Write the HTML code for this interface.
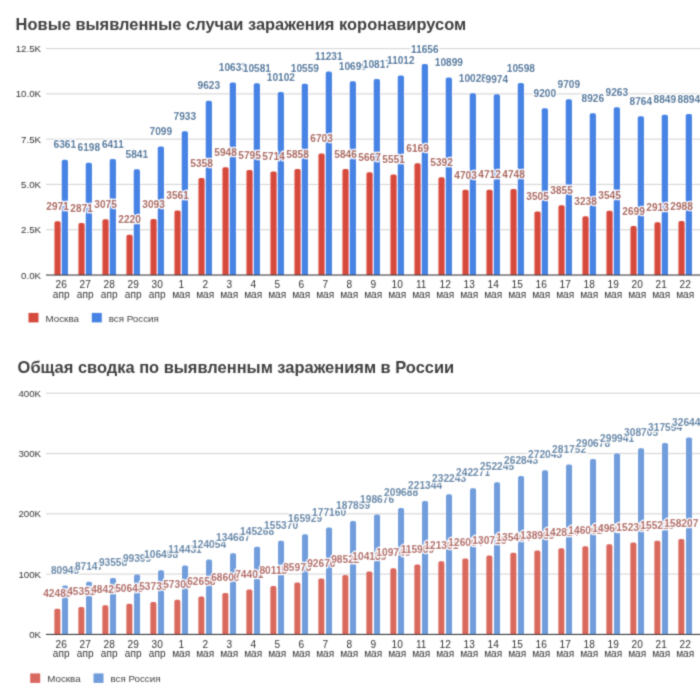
<!DOCTYPE html>
<html><head><meta charset="utf-8"><style>html,body{margin:0;padding:0;background:#fff;width:700px;height:700px;overflow:hidden}svg{display:block}</style></head><body>
<svg width="700" height="700" viewBox="0 0 700 700">
<defs><filter id="bl" x="0" y="0" width="700" height="700" filterUnits="userSpaceOnUse"><feConvolveMatrix order="3" kernelMatrix="0.02768 0.11101 0.02768 0.11101 0.44521 0.11101 0.02768 0.11101 0.02768" divisor="1" preserveAlpha="false"/></filter></defs><rect width="700" height="700" fill="#fff"/><g filter="url(#bl)">
<text x="15.6" y="29.6" font-family='"Liberation Sans", sans-serif' font-weight="bold" font-size="16.9" fill="#404040" textLength="450.6" lengthAdjust="spacingAndGlyphs">Новые выявленные случаи заражения коронавирусом</text>
<rect x="46" y="48.00" width="654" height="1.2" fill="#d9d9d9"/>
<text x="41" y="52.10" text-anchor="end" font-family='"Liberation Sans", sans-serif' font-size="9.7" fill="#333">12.5K</text>
<rect x="46" y="93.28" width="654" height="1.2" fill="#d9d9d9"/>
<text x="41" y="97.38" text-anchor="end" font-family='"Liberation Sans", sans-serif' font-size="9.7" fill="#333">10.0K</text>
<rect x="46" y="138.56" width="654" height="1.2" fill="#d9d9d9"/>
<text x="41" y="142.66" text-anchor="end" font-family='"Liberation Sans", sans-serif' font-size="9.7" fill="#333">7.5K</text>
<rect x="46" y="183.84" width="654" height="1.2" fill="#d9d9d9"/>
<text x="41" y="187.94" text-anchor="end" font-family='"Liberation Sans", sans-serif' font-size="9.7" fill="#333">5.0K</text>
<rect x="46" y="229.12" width="654" height="1.2" fill="#d9d9d9"/>
<text x="41" y="233.22" text-anchor="end" font-family='"Liberation Sans", sans-serif' font-size="9.7" fill="#333">2.5K</text>
<text x="41" y="278.50" text-anchor="end" font-family='"Liberation Sans", sans-serif' font-size="9.7" fill="#333">0.0K</text>
<path d="M54.45,275.00 V222.99 Q54.45,221.19 56.25,221.19 H58.85 Q60.65,221.19 60.65,222.99 V275.00 Z" fill="#d64a3c"/>
<path d="M61.75,275.00 V161.59 Q61.75,159.79 63.55,159.79 H66.15 Q67.95,159.79 67.95,161.59 V275.00 Z" fill="#4683e4"/>
<path d="M78.45,275.00 V224.80 Q78.45,223.00 80.25,223.00 H82.85 Q84.65,223.00 84.65,224.80 V275.00 Z" fill="#d64a3c"/>
<path d="M85.75,275.00 V164.54 Q85.75,162.74 87.55,162.74 H90.15 Q91.95,162.74 91.95,164.54 V275.00 Z" fill="#4683e4"/>
<path d="M102.45,275.00 V221.11 Q102.45,219.31 104.25,219.31 H106.85 Q108.65,219.31 108.65,221.11 V275.00 Z" fill="#d64a3c"/>
<path d="M109.75,275.00 V160.68 Q109.75,158.88 111.55,158.88 H114.15 Q115.95,158.88 115.95,160.68 V275.00 Z" fill="#4683e4"/>
<path d="M126.45,275.00 V236.59 Q126.45,234.79 128.25,234.79 H130.85 Q132.65,234.79 132.65,236.59 V275.00 Z" fill="#d64a3c"/>
<path d="M133.75,275.00 V171.01 Q133.75,169.21 135.55,169.21 H138.15 Q139.95,169.21 139.95,171.01 V275.00 Z" fill="#4683e4"/>
<path d="M150.45,275.00 V220.78 Q150.45,218.98 152.25,218.98 H154.85 Q156.65,218.98 156.65,220.78 V275.00 Z" fill="#d64a3c"/>
<path d="M157.75,275.00 V148.22 Q157.75,146.42 159.55,146.42 H162.15 Q163.95,146.42 163.95,148.22 V275.00 Z" fill="#4683e4"/>
<path d="M174.45,275.00 V212.30 Q174.45,210.50 176.25,210.50 H178.85 Q180.65,210.50 180.65,212.30 V275.00 Z" fill="#d64a3c"/>
<path d="M181.75,275.00 V133.12 Q181.75,131.32 183.55,131.32 H186.15 Q187.95,131.32 187.95,133.12 V275.00 Z" fill="#4683e4"/>
<path d="M198.45,275.00 V179.76 Q198.45,177.96 200.25,177.96 H202.85 Q204.65,177.96 204.65,179.76 V275.00 Z" fill="#d64a3c"/>
<path d="M205.75,275.00 V102.51 Q205.75,100.71 207.55,100.71 H210.15 Q211.95,100.71 211.95,102.51 V275.00 Z" fill="#4683e4"/>
<path d="M222.45,275.00 V169.07 Q222.45,167.27 224.25,167.27 H226.85 Q228.65,167.27 228.65,169.07 V275.00 Z" fill="#d64a3c"/>
<path d="M229.75,275.00 V84.22 Q229.75,82.42 231.55,82.42 H234.15 Q235.95,82.42 235.95,84.22 V275.00 Z" fill="#4683e4"/>
<path d="M246.45,275.00 V171.84 Q246.45,170.04 248.25,170.04 H250.85 Q252.65,170.04 252.65,171.84 V275.00 Z" fill="#d64a3c"/>
<path d="M253.75,275.00 V85.16 Q253.75,83.36 255.55,83.36 H258.15 Q259.95,83.36 259.95,85.16 V275.00 Z" fill="#4683e4"/>
<path d="M270.45,275.00 V173.31 Q270.45,171.51 272.25,171.51 H274.85 Q276.65,171.51 276.65,173.31 V275.00 Z" fill="#d64a3c"/>
<path d="M277.75,275.00 V93.83 Q277.75,92.03 279.55,92.03 H282.15 Q283.95,92.03 283.95,93.83 V275.00 Z" fill="#4683e4"/>
<path d="M294.45,275.00 V170.70 Q294.45,168.90 296.25,168.90 H298.85 Q300.65,168.90 300.65,170.70 V275.00 Z" fill="#d64a3c"/>
<path d="M301.75,275.00 V85.56 Q301.75,83.76 303.55,83.76 H306.15 Q307.95,83.76 307.95,85.56 V275.00 Z" fill="#4683e4"/>
<path d="M318.45,275.00 V155.40 Q318.45,153.60 320.25,153.60 H322.85 Q324.65,153.60 324.65,155.40 V275.00 Z" fill="#d64a3c"/>
<path d="M325.75,275.00 V73.38 Q325.75,71.58 327.55,71.58 H330.15 Q331.95,71.58 331.95,73.38 V275.00 Z" fill="#4683e4"/>
<path d="M342.45,275.00 V170.92 Q342.45,169.12 344.25,169.12 H346.85 Q348.65,169.12 348.65,170.92 V275.00 Z" fill="#d64a3c"/>
<path d="M349.75,275.00 V83.02 Q349.75,81.22 351.55,81.22 H354.15 Q355.95,81.22 355.95,83.02 V275.00 Z" fill="#4683e4"/>
<path d="M366.45,275.00 V174.16 Q366.45,172.36 368.25,172.36 H370.85 Q372.65,172.36 372.65,174.16 V275.00 Z" fill="#d64a3c"/>
<path d="M373.75,275.00 V80.88 Q373.75,79.08 375.55,79.08 H378.15 Q379.95,79.08 379.95,80.88 V275.00 Z" fill="#4683e4"/>
<path d="M390.45,275.00 V176.26 Q390.45,174.46 392.25,174.46 H394.85 Q396.65,174.46 396.65,176.26 V275.00 Z" fill="#d64a3c"/>
<path d="M397.75,275.00 V77.35 Q397.75,75.55 399.55,75.55 H402.15 Q403.95,75.55 403.95,77.35 V275.00 Z" fill="#4683e4"/>
<path d="M414.45,275.00 V165.07 Q414.45,163.27 416.25,163.27 H418.85 Q420.65,163.27 420.65,165.07 V275.00 Z" fill="#d64a3c"/>
<path d="M421.75,275.00 V65.69 Q421.75,63.89 423.55,63.89 H426.15 Q427.95,63.89 427.95,65.69 V275.00 Z" fill="#4683e4"/>
<path d="M438.45,275.00 V179.14 Q438.45,177.34 440.25,177.34 H442.85 Q444.65,177.34 444.65,179.14 V275.00 Z" fill="#d64a3c"/>
<path d="M445.75,275.00 V79.40 Q445.75,77.60 447.55,77.60 H450.15 Q451.95,77.60 451.95,79.40 V275.00 Z" fill="#4683e4"/>
<path d="M462.45,275.00 V191.62 Q462.45,189.82 464.25,189.82 H466.85 Q468.65,189.82 468.65,191.62 V275.00 Z" fill="#d64a3c"/>
<path d="M469.75,275.00 V95.17 Q469.75,93.37 471.55,93.37 H474.15 Q475.95,93.37 475.95,95.17 V275.00 Z" fill="#4683e4"/>
<path d="M486.45,275.00 V191.46 Q486.45,189.66 488.25,189.66 H490.85 Q492.65,189.66 492.65,191.46 V275.00 Z" fill="#d64a3c"/>
<path d="M493.75,275.00 V96.15 Q493.75,94.35 495.55,94.35 H498.15 Q499.95,94.35 499.95,96.15 V275.00 Z" fill="#4683e4"/>
<path d="M510.45,275.00 V190.80 Q510.45,189.00 512.25,189.00 H514.85 Q516.65,189.00 516.65,190.80 V275.00 Z" fill="#d64a3c"/>
<path d="M517.75,275.00 V84.85 Q517.75,83.05 519.55,83.05 H522.15 Q523.95,83.05 523.95,84.85 V275.00 Z" fill="#4683e4"/>
<path d="M534.45,275.00 V213.32 Q534.45,211.52 536.25,211.52 H538.85 Q540.65,211.52 540.65,213.32 V275.00 Z" fill="#d64a3c"/>
<path d="M541.75,275.00 V110.17 Q541.75,108.37 543.55,108.37 H546.15 Q547.95,108.37 547.95,110.17 V275.00 Z" fill="#4683e4"/>
<path d="M558.45,275.00 V206.98 Q558.45,205.18 560.25,205.18 H562.85 Q564.65,205.18 564.65,206.98 V275.00 Z" fill="#d64a3c"/>
<path d="M565.75,275.00 V100.95 Q565.75,99.15 567.55,99.15 H570.15 Q571.95,99.15 571.95,100.95 V275.00 Z" fill="#4683e4"/>
<path d="M582.45,275.00 V218.15 Q582.45,216.35 584.25,216.35 H586.85 Q588.65,216.35 588.65,218.15 V275.00 Z" fill="#d64a3c"/>
<path d="M589.75,275.00 V115.13 Q589.75,113.33 591.55,113.33 H594.15 Q595.95,113.33 595.95,115.13 V275.00 Z" fill="#4683e4"/>
<path d="M606.45,275.00 V212.59 Q606.45,210.79 608.25,210.79 H610.85 Q612.65,210.79 612.65,212.59 V275.00 Z" fill="#d64a3c"/>
<path d="M613.75,275.00 V109.03 Q613.75,107.23 615.55,107.23 H618.15 Q619.95,107.23 619.95,109.03 V275.00 Z" fill="#4683e4"/>
<path d="M630.45,275.00 V227.92 Q630.45,226.12 632.25,226.12 H634.85 Q636.65,226.12 636.65,227.92 V275.00 Z" fill="#d64a3c"/>
<path d="M637.75,275.00 V118.07 Q637.75,116.27 639.55,116.27 H642.15 Q643.95,116.27 643.95,118.07 V275.00 Z" fill="#4683e4"/>
<path d="M654.45,275.00 V224.04 Q654.45,222.24 656.25,222.24 H658.85 Q660.65,222.24 660.65,224.04 V275.00 Z" fill="#d64a3c"/>
<path d="M661.75,275.00 V116.53 Q661.75,114.73 663.55,114.73 H666.15 Q667.95,114.73 667.95,116.53 V275.00 Z" fill="#4683e4"/>
<path d="M678.45,275.00 V222.68 Q678.45,220.88 680.25,220.88 H682.85 Q684.65,220.88 684.65,222.68 V275.00 Z" fill="#d64a3c"/>
<path d="M685.75,275.00 V115.71 Q685.75,113.91 687.55,113.91 H690.15 Q691.95,113.91 691.95,115.71 V275.00 Z" fill="#4683e4"/>
<text x="57.55" y="209.89" text-anchor="middle" font-family='"Liberation Sans", sans-serif' font-weight="bold" font-size="10.1" fill="#a8584c" stroke="#fff" stroke-width="2.5" paint-order="stroke" stroke-opacity="0.9">2971</text>
<text x="81.55" y="211.70" text-anchor="middle" font-family='"Liberation Sans", sans-serif' font-weight="bold" font-size="10.1" fill="#a8584c" stroke="#fff" stroke-width="2.5" paint-order="stroke" stroke-opacity="0.9">2871</text>
<text x="105.55" y="208.01" text-anchor="middle" font-family='"Liberation Sans", sans-serif' font-weight="bold" font-size="10.1" fill="#a8584c" stroke="#fff" stroke-width="2.5" paint-order="stroke" stroke-opacity="0.9">3075</text>
<text x="129.55" y="223.49" text-anchor="middle" font-family='"Liberation Sans", sans-serif' font-weight="bold" font-size="10.1" fill="#a8584c" stroke="#fff" stroke-width="2.5" paint-order="stroke" stroke-opacity="0.9">2220</text>
<text x="153.55" y="207.68" text-anchor="middle" font-family='"Liberation Sans", sans-serif' font-weight="bold" font-size="10.1" fill="#a8584c" stroke="#fff" stroke-width="2.5" paint-order="stroke" stroke-opacity="0.9">3093</text>
<text x="177.55" y="199.20" text-anchor="middle" font-family='"Liberation Sans", sans-serif' font-weight="bold" font-size="10.1" fill="#a8584c" stroke="#fff" stroke-width="2.5" paint-order="stroke" stroke-opacity="0.9">3561</text>
<text x="201.55" y="166.66" text-anchor="middle" font-family='"Liberation Sans", sans-serif' font-weight="bold" font-size="10.1" fill="#a8584c" stroke="#fff" stroke-width="2.5" paint-order="stroke" stroke-opacity="0.9">5358</text>
<text x="225.55" y="155.97" text-anchor="middle" font-family='"Liberation Sans", sans-serif' font-weight="bold" font-size="10.1" fill="#a8584c" stroke="#fff" stroke-width="2.5" paint-order="stroke" stroke-opacity="0.9">5948</text>
<text x="249.55" y="158.74" text-anchor="middle" font-family='"Liberation Sans", sans-serif' font-weight="bold" font-size="10.1" fill="#a8584c" stroke="#fff" stroke-width="2.5" paint-order="stroke" stroke-opacity="0.9">5795</text>
<text x="273.55" y="160.21" text-anchor="middle" font-family='"Liberation Sans", sans-serif' font-weight="bold" font-size="10.1" fill="#a8584c" stroke="#fff" stroke-width="2.5" paint-order="stroke" stroke-opacity="0.9">5714</text>
<text x="297.55" y="157.60" text-anchor="middle" font-family='"Liberation Sans", sans-serif' font-weight="bold" font-size="10.1" fill="#a8584c" stroke="#fff" stroke-width="2.5" paint-order="stroke" stroke-opacity="0.9">5858</text>
<text x="321.55" y="142.30" text-anchor="middle" font-family='"Liberation Sans", sans-serif' font-weight="bold" font-size="10.1" fill="#a8584c" stroke="#fff" stroke-width="2.5" paint-order="stroke" stroke-opacity="0.9">6703</text>
<text x="345.55" y="157.82" text-anchor="middle" font-family='"Liberation Sans", sans-serif' font-weight="bold" font-size="10.1" fill="#a8584c" stroke="#fff" stroke-width="2.5" paint-order="stroke" stroke-opacity="0.9">5846</text>
<text x="369.55" y="161.06" text-anchor="middle" font-family='"Liberation Sans", sans-serif' font-weight="bold" font-size="10.1" fill="#a8584c" stroke="#fff" stroke-width="2.5" paint-order="stroke" stroke-opacity="0.9">5667</text>
<text x="393.55" y="163.16" text-anchor="middle" font-family='"Liberation Sans", sans-serif' font-weight="bold" font-size="10.1" fill="#a8584c" stroke="#fff" stroke-width="2.5" paint-order="stroke" stroke-opacity="0.9">5551</text>
<text x="417.55" y="151.97" text-anchor="middle" font-family='"Liberation Sans", sans-serif' font-weight="bold" font-size="10.1" fill="#a8584c" stroke="#fff" stroke-width="2.5" paint-order="stroke" stroke-opacity="0.9">6169</text>
<text x="441.55" y="166.04" text-anchor="middle" font-family='"Liberation Sans", sans-serif' font-weight="bold" font-size="10.1" fill="#a8584c" stroke="#fff" stroke-width="2.5" paint-order="stroke" stroke-opacity="0.9">5392</text>
<text x="465.55" y="178.52" text-anchor="middle" font-family='"Liberation Sans", sans-serif' font-weight="bold" font-size="10.1" fill="#a8584c" stroke="#fff" stroke-width="2.5" paint-order="stroke" stroke-opacity="0.9">4703</text>
<text x="489.55" y="178.36" text-anchor="middle" font-family='"Liberation Sans", sans-serif' font-weight="bold" font-size="10.1" fill="#a8584c" stroke="#fff" stroke-width="2.5" paint-order="stroke" stroke-opacity="0.9">4712</text>
<text x="513.55" y="177.70" text-anchor="middle" font-family='"Liberation Sans", sans-serif' font-weight="bold" font-size="10.1" fill="#a8584c" stroke="#fff" stroke-width="2.5" paint-order="stroke" stroke-opacity="0.9">4748</text>
<text x="537.55" y="200.22" text-anchor="middle" font-family='"Liberation Sans", sans-serif' font-weight="bold" font-size="10.1" fill="#a8584c" stroke="#fff" stroke-width="2.5" paint-order="stroke" stroke-opacity="0.9">3505</text>
<text x="561.55" y="193.88" text-anchor="middle" font-family='"Liberation Sans", sans-serif' font-weight="bold" font-size="10.1" fill="#a8584c" stroke="#fff" stroke-width="2.5" paint-order="stroke" stroke-opacity="0.9">3855</text>
<text x="585.55" y="205.05" text-anchor="middle" font-family='"Liberation Sans", sans-serif' font-weight="bold" font-size="10.1" fill="#a8584c" stroke="#fff" stroke-width="2.5" paint-order="stroke" stroke-opacity="0.9">3238</text>
<text x="609.55" y="199.49" text-anchor="middle" font-family='"Liberation Sans", sans-serif' font-weight="bold" font-size="10.1" fill="#a8584c" stroke="#fff" stroke-width="2.5" paint-order="stroke" stroke-opacity="0.9">3545</text>
<text x="633.55" y="214.82" text-anchor="middle" font-family='"Liberation Sans", sans-serif' font-weight="bold" font-size="10.1" fill="#a8584c" stroke="#fff" stroke-width="2.5" paint-order="stroke" stroke-opacity="0.9">2699</text>
<text x="657.55" y="210.94" text-anchor="middle" font-family='"Liberation Sans", sans-serif' font-weight="bold" font-size="10.1" fill="#a8584c" stroke="#fff" stroke-width="2.5" paint-order="stroke" stroke-opacity="0.9">2913</text>
<text x="681.55" y="209.58" text-anchor="middle" font-family='"Liberation Sans", sans-serif' font-weight="bold" font-size="10.1" fill="#a8584c" stroke="#fff" stroke-width="2.5" paint-order="stroke" stroke-opacity="0.9">2988</text>
<text x="64.85" y="148.49" text-anchor="middle" font-family='"Liberation Sans", sans-serif' font-weight="bold" font-size="10.1" fill="#41709a" stroke="#fff" stroke-width="2.5" paint-order="stroke" stroke-opacity="0.9">6361</text>
<text x="88.85" y="151.44" text-anchor="middle" font-family='"Liberation Sans", sans-serif' font-weight="bold" font-size="10.1" fill="#41709a" stroke="#fff" stroke-width="2.5" paint-order="stroke" stroke-opacity="0.9">6198</text>
<text x="112.85" y="147.58" text-anchor="middle" font-family='"Liberation Sans", sans-serif' font-weight="bold" font-size="10.1" fill="#41709a" stroke="#fff" stroke-width="2.5" paint-order="stroke" stroke-opacity="0.9">6411</text>
<text x="136.85" y="157.91" text-anchor="middle" font-family='"Liberation Sans", sans-serif' font-weight="bold" font-size="10.1" fill="#41709a" stroke="#fff" stroke-width="2.5" paint-order="stroke" stroke-opacity="0.9">5841</text>
<text x="160.85" y="135.12" text-anchor="middle" font-family='"Liberation Sans", sans-serif' font-weight="bold" font-size="10.1" fill="#41709a" stroke="#fff" stroke-width="2.5" paint-order="stroke" stroke-opacity="0.9">7099</text>
<text x="184.85" y="120.02" text-anchor="middle" font-family='"Liberation Sans", sans-serif' font-weight="bold" font-size="10.1" fill="#41709a" stroke="#fff" stroke-width="2.5" paint-order="stroke" stroke-opacity="0.9">7933</text>
<text x="208.85" y="89.41" text-anchor="middle" font-family='"Liberation Sans", sans-serif' font-weight="bold" font-size="10.1" fill="#41709a" stroke="#fff" stroke-width="2.5" paint-order="stroke" stroke-opacity="0.9">9623</text>
<text x="232.85" y="71.12" text-anchor="middle" font-family='"Liberation Sans", sans-serif' font-weight="bold" font-size="10.1" fill="#41709a" stroke="#fff" stroke-width="2.5" paint-order="stroke" stroke-opacity="0.9">10633</text>
<text x="256.85" y="72.06" text-anchor="middle" font-family='"Liberation Sans", sans-serif' font-weight="bold" font-size="10.1" fill="#41709a" stroke="#fff" stroke-width="2.5" paint-order="stroke" stroke-opacity="0.9">10581</text>
<text x="280.85" y="80.73" text-anchor="middle" font-family='"Liberation Sans", sans-serif' font-weight="bold" font-size="10.1" fill="#41709a" stroke="#fff" stroke-width="2.5" paint-order="stroke" stroke-opacity="0.9">10102</text>
<text x="304.85" y="72.46" text-anchor="middle" font-family='"Liberation Sans", sans-serif' font-weight="bold" font-size="10.1" fill="#41709a" stroke="#fff" stroke-width="2.5" paint-order="stroke" stroke-opacity="0.9">10559</text>
<text x="328.85" y="60.28" text-anchor="middle" font-family='"Liberation Sans", sans-serif' font-weight="bold" font-size="10.1" fill="#41709a" stroke="#fff" stroke-width="2.5" paint-order="stroke" stroke-opacity="0.9">11231</text>
<text x="352.85" y="69.92" text-anchor="middle" font-family='"Liberation Sans", sans-serif' font-weight="bold" font-size="10.1" fill="#41709a" stroke="#fff" stroke-width="2.5" paint-order="stroke" stroke-opacity="0.9">10699</text>
<text x="376.85" y="67.78" text-anchor="middle" font-family='"Liberation Sans", sans-serif' font-weight="bold" font-size="10.1" fill="#41709a" stroke="#fff" stroke-width="2.5" paint-order="stroke" stroke-opacity="0.9">10817</text>
<text x="400.85" y="64.25" text-anchor="middle" font-family='"Liberation Sans", sans-serif' font-weight="bold" font-size="10.1" fill="#41709a" stroke="#fff" stroke-width="2.5" paint-order="stroke" stroke-opacity="0.9">11012</text>
<text x="424.85" y="52.59" text-anchor="middle" font-family='"Liberation Sans", sans-serif' font-weight="bold" font-size="10.1" fill="#41709a" stroke="#fff" stroke-width="2.5" paint-order="stroke" stroke-opacity="0.9">11656</text>
<text x="448.85" y="66.30" text-anchor="middle" font-family='"Liberation Sans", sans-serif' font-weight="bold" font-size="10.1" fill="#41709a" stroke="#fff" stroke-width="2.5" paint-order="stroke" stroke-opacity="0.9">10899</text>
<text x="472.85" y="82.07" text-anchor="middle" font-family='"Liberation Sans", sans-serif' font-weight="bold" font-size="10.1" fill="#41709a" stroke="#fff" stroke-width="2.5" paint-order="stroke" stroke-opacity="0.9">10028</text>
<text x="496.85" y="83.05" text-anchor="middle" font-family='"Liberation Sans", sans-serif' font-weight="bold" font-size="10.1" fill="#41709a" stroke="#fff" stroke-width="2.5" paint-order="stroke" stroke-opacity="0.9">9974</text>
<text x="520.85" y="71.75" text-anchor="middle" font-family='"Liberation Sans", sans-serif' font-weight="bold" font-size="10.1" fill="#41709a" stroke="#fff" stroke-width="2.5" paint-order="stroke" stroke-opacity="0.9">10598</text>
<text x="544.85" y="97.07" text-anchor="middle" font-family='"Liberation Sans", sans-serif' font-weight="bold" font-size="10.1" fill="#41709a" stroke="#fff" stroke-width="2.5" paint-order="stroke" stroke-opacity="0.9">9200</text>
<text x="568.85" y="87.85" text-anchor="middle" font-family='"Liberation Sans", sans-serif' font-weight="bold" font-size="10.1" fill="#41709a" stroke="#fff" stroke-width="2.5" paint-order="stroke" stroke-opacity="0.9">9709</text>
<text x="592.85" y="102.03" text-anchor="middle" font-family='"Liberation Sans", sans-serif' font-weight="bold" font-size="10.1" fill="#41709a" stroke="#fff" stroke-width="2.5" paint-order="stroke" stroke-opacity="0.9">8926</text>
<text x="616.85" y="95.93" text-anchor="middle" font-family='"Liberation Sans", sans-serif' font-weight="bold" font-size="10.1" fill="#41709a" stroke="#fff" stroke-width="2.5" paint-order="stroke" stroke-opacity="0.9">9263</text>
<text x="640.85" y="104.97" text-anchor="middle" font-family='"Liberation Sans", sans-serif' font-weight="bold" font-size="10.1" fill="#41709a" stroke="#fff" stroke-width="2.5" paint-order="stroke" stroke-opacity="0.9">8764</text>
<text x="664.85" y="103.43" text-anchor="middle" font-family='"Liberation Sans", sans-serif' font-weight="bold" font-size="10.1" fill="#41709a" stroke="#fff" stroke-width="2.5" paint-order="stroke" stroke-opacity="0.9">8849</text>
<text x="688.85" y="102.61" text-anchor="middle" font-family='"Liberation Sans", sans-serif' font-weight="bold" font-size="10.1" fill="#41709a" stroke="#fff" stroke-width="2.5" paint-order="stroke" stroke-opacity="0.9">8894</text>
<rect x="46" y="274.50" width="654" height="1.1" fill="#3a3a3a"/>
<text x="61.20" y="288.40" text-anchor="middle" font-family='"Liberation Sans", sans-serif' font-size="10.1" fill="#333">26</text>
<text x="61.20" y="298.00" text-anchor="middle" font-family='"Liberation Sans", sans-serif' font-size="10.1" fill="#333">апр</text>
<text x="85.20" y="288.40" text-anchor="middle" font-family='"Liberation Sans", sans-serif' font-size="10.1" fill="#333">27</text>
<text x="85.20" y="298.00" text-anchor="middle" font-family='"Liberation Sans", sans-serif' font-size="10.1" fill="#333">апр</text>
<text x="109.20" y="288.40" text-anchor="middle" font-family='"Liberation Sans", sans-serif' font-size="10.1" fill="#333">28</text>
<text x="109.20" y="298.00" text-anchor="middle" font-family='"Liberation Sans", sans-serif' font-size="10.1" fill="#333">апр</text>
<text x="133.20" y="288.40" text-anchor="middle" font-family='"Liberation Sans", sans-serif' font-size="10.1" fill="#333">29</text>
<text x="133.20" y="298.00" text-anchor="middle" font-family='"Liberation Sans", sans-serif' font-size="10.1" fill="#333">апр</text>
<text x="157.20" y="288.40" text-anchor="middle" font-family='"Liberation Sans", sans-serif' font-size="10.1" fill="#333">30</text>
<text x="157.20" y="298.00" text-anchor="middle" font-family='"Liberation Sans", sans-serif' font-size="10.1" fill="#333">апр</text>
<text x="181.20" y="288.40" text-anchor="middle" font-family='"Liberation Sans", sans-serif' font-size="10.1" fill="#333">1</text>
<text x="181.20" y="298.00" text-anchor="middle" font-family='"Liberation Sans", sans-serif' font-size="10.1" fill="#333">мая</text>
<text x="205.20" y="288.40" text-anchor="middle" font-family='"Liberation Sans", sans-serif' font-size="10.1" fill="#333">2</text>
<text x="205.20" y="298.00" text-anchor="middle" font-family='"Liberation Sans", sans-serif' font-size="10.1" fill="#333">мая</text>
<text x="229.20" y="288.40" text-anchor="middle" font-family='"Liberation Sans", sans-serif' font-size="10.1" fill="#333">3</text>
<text x="229.20" y="298.00" text-anchor="middle" font-family='"Liberation Sans", sans-serif' font-size="10.1" fill="#333">мая</text>
<text x="253.20" y="288.40" text-anchor="middle" font-family='"Liberation Sans", sans-serif' font-size="10.1" fill="#333">4</text>
<text x="253.20" y="298.00" text-anchor="middle" font-family='"Liberation Sans", sans-serif' font-size="10.1" fill="#333">мая</text>
<text x="277.20" y="288.40" text-anchor="middle" font-family='"Liberation Sans", sans-serif' font-size="10.1" fill="#333">5</text>
<text x="277.20" y="298.00" text-anchor="middle" font-family='"Liberation Sans", sans-serif' font-size="10.1" fill="#333">мая</text>
<text x="301.20" y="288.40" text-anchor="middle" font-family='"Liberation Sans", sans-serif' font-size="10.1" fill="#333">6</text>
<text x="301.20" y="298.00" text-anchor="middle" font-family='"Liberation Sans", sans-serif' font-size="10.1" fill="#333">мая</text>
<text x="325.20" y="288.40" text-anchor="middle" font-family='"Liberation Sans", sans-serif' font-size="10.1" fill="#333">7</text>
<text x="325.20" y="298.00" text-anchor="middle" font-family='"Liberation Sans", sans-serif' font-size="10.1" fill="#333">мая</text>
<text x="349.20" y="288.40" text-anchor="middle" font-family='"Liberation Sans", sans-serif' font-size="10.1" fill="#333">8</text>
<text x="349.20" y="298.00" text-anchor="middle" font-family='"Liberation Sans", sans-serif' font-size="10.1" fill="#333">мая</text>
<text x="373.20" y="288.40" text-anchor="middle" font-family='"Liberation Sans", sans-serif' font-size="10.1" fill="#333">9</text>
<text x="373.20" y="298.00" text-anchor="middle" font-family='"Liberation Sans", sans-serif' font-size="10.1" fill="#333">мая</text>
<text x="397.20" y="288.40" text-anchor="middle" font-family='"Liberation Sans", sans-serif' font-size="10.1" fill="#333">10</text>
<text x="397.20" y="298.00" text-anchor="middle" font-family='"Liberation Sans", sans-serif' font-size="10.1" fill="#333">мая</text>
<text x="421.20" y="288.40" text-anchor="middle" font-family='"Liberation Sans", sans-serif' font-size="10.1" fill="#333">11</text>
<text x="421.20" y="298.00" text-anchor="middle" font-family='"Liberation Sans", sans-serif' font-size="10.1" fill="#333">мая</text>
<text x="445.20" y="288.40" text-anchor="middle" font-family='"Liberation Sans", sans-serif' font-size="10.1" fill="#333">12</text>
<text x="445.20" y="298.00" text-anchor="middle" font-family='"Liberation Sans", sans-serif' font-size="10.1" fill="#333">мая</text>
<text x="469.20" y="288.40" text-anchor="middle" font-family='"Liberation Sans", sans-serif' font-size="10.1" fill="#333">13</text>
<text x="469.20" y="298.00" text-anchor="middle" font-family='"Liberation Sans", sans-serif' font-size="10.1" fill="#333">мая</text>
<text x="493.20" y="288.40" text-anchor="middle" font-family='"Liberation Sans", sans-serif' font-size="10.1" fill="#333">14</text>
<text x="493.20" y="298.00" text-anchor="middle" font-family='"Liberation Sans", sans-serif' font-size="10.1" fill="#333">мая</text>
<text x="517.20" y="288.40" text-anchor="middle" font-family='"Liberation Sans", sans-serif' font-size="10.1" fill="#333">15</text>
<text x="517.20" y="298.00" text-anchor="middle" font-family='"Liberation Sans", sans-serif' font-size="10.1" fill="#333">мая</text>
<text x="541.20" y="288.40" text-anchor="middle" font-family='"Liberation Sans", sans-serif' font-size="10.1" fill="#333">16</text>
<text x="541.20" y="298.00" text-anchor="middle" font-family='"Liberation Sans", sans-serif' font-size="10.1" fill="#333">мая</text>
<text x="565.20" y="288.40" text-anchor="middle" font-family='"Liberation Sans", sans-serif' font-size="10.1" fill="#333">17</text>
<text x="565.20" y="298.00" text-anchor="middle" font-family='"Liberation Sans", sans-serif' font-size="10.1" fill="#333">мая</text>
<text x="589.20" y="288.40" text-anchor="middle" font-family='"Liberation Sans", sans-serif' font-size="10.1" fill="#333">18</text>
<text x="589.20" y="298.00" text-anchor="middle" font-family='"Liberation Sans", sans-serif' font-size="10.1" fill="#333">мая</text>
<text x="613.20" y="288.40" text-anchor="middle" font-family='"Liberation Sans", sans-serif' font-size="10.1" fill="#333">19</text>
<text x="613.20" y="298.00" text-anchor="middle" font-family='"Liberation Sans", sans-serif' font-size="10.1" fill="#333">мая</text>
<text x="637.20" y="288.40" text-anchor="middle" font-family='"Liberation Sans", sans-serif' font-size="10.1" fill="#333">20</text>
<text x="637.20" y="298.00" text-anchor="middle" font-family='"Liberation Sans", sans-serif' font-size="10.1" fill="#333">мая</text>
<text x="661.20" y="288.40" text-anchor="middle" font-family='"Liberation Sans", sans-serif' font-size="10.1" fill="#333">21</text>
<text x="661.20" y="298.00" text-anchor="middle" font-family='"Liberation Sans", sans-serif' font-size="10.1" fill="#333">мая</text>
<text x="685.20" y="288.40" text-anchor="middle" font-family='"Liberation Sans", sans-serif' font-size="10.1" fill="#333">22</text>
<text x="685.20" y="298.00" text-anchor="middle" font-family='"Liberation Sans", sans-serif' font-size="10.1" fill="#333">мая</text>
<rect x="28.5" y="312.9" width="10" height="9.5" fill="#d64a3c"/>
<text x="45.5" y="321.50" font-family='"Liberation Sans", sans-serif' font-size="9.8" fill="#444">Москва</text>
<rect x="91.8" y="312.9" width="10" height="9.5" fill="#4683e4"/>
<text x="108.7" y="321.50" font-family='"Liberation Sans", sans-serif' font-size="9.8" fill="#444">вся Россия</text>
<text x="17.6" y="373.1" font-family='"Liberation Sans", sans-serif' font-weight="bold" font-size="16.9" fill="#404040" textLength="436.6" lengthAdjust="spacingAndGlyphs">Общая сводка по выявленным заражениям в России</text>
<rect x="46" y="392.60" width="654" height="1.2" fill="#d9d9d9"/>
<text x="41" y="396.70" text-anchor="end" font-family='"Liberation Sans", sans-serif' font-size="9.7" fill="#333">400K</text>
<rect x="46" y="452.90" width="654" height="1.2" fill="#d9d9d9"/>
<text x="41" y="457.00" text-anchor="end" font-family='"Liberation Sans", sans-serif' font-size="9.7" fill="#333">300K</text>
<rect x="46" y="513.20" width="654" height="1.2" fill="#d9d9d9"/>
<text x="41" y="517.30" text-anchor="end" font-family='"Liberation Sans", sans-serif' font-size="9.7" fill="#333">200K</text>
<rect x="46" y="573.50" width="654" height="1.2" fill="#d9d9d9"/>
<text x="41" y="577.60" text-anchor="end" font-family='"Liberation Sans", sans-serif' font-size="9.7" fill="#333">100K</text>
<text x="41" y="637.90" text-anchor="end" font-family='"Liberation Sans", sans-serif' font-size="9.7" fill="#333">0K</text>
<path d="M54.35,634.40 V610.58 Q54.35,608.78 56.15,608.78 H58.55 Q60.35,608.78 60.35,610.58 V634.40 Z" fill="#d9675f"/>
<path d="M62.05,634.40 V587.39 Q62.05,585.59 63.85,585.59 H66.25 Q68.05,585.59 68.05,587.39 V634.40 Z" fill="#719ddc"/>
<path d="M78.35,634.40 V608.85 Q78.35,607.05 80.15,607.05 H82.55 Q84.35,607.05 84.35,608.85 V634.40 Z" fill="#d9675f"/>
<path d="M86.05,634.40 V583.65 Q86.05,581.85 87.85,581.85 H90.25 Q92.05,581.85 92.05,583.65 V634.40 Z" fill="#719ddc"/>
<path d="M102.35,634.40 V607.00 Q102.35,605.20 104.15,605.20 H106.55 Q108.35,605.20 108.35,607.00 V634.40 Z" fill="#d9675f"/>
<path d="M110.05,634.40 V579.78 Q110.05,577.98 111.85,577.98 H114.25 Q116.05,577.98 116.05,579.78 V634.40 Z" fill="#719ddc"/>
<path d="M126.35,634.40 V605.66 Q126.35,603.86 128.15,603.86 H130.55 Q132.35,603.86 132.35,605.66 V634.40 Z" fill="#d9675f"/>
<path d="M134.05,634.40 V576.26 Q134.05,574.46 135.85,574.46 H138.25 Q140.05,574.46 140.05,576.26 V634.40 Z" fill="#719ddc"/>
<path d="M150.35,634.40 V603.80 Q150.35,602.00 152.15,602.00 H154.55 Q156.35,602.00 156.35,603.80 V634.40 Z" fill="#d9675f"/>
<path d="M158.05,634.40 V571.98 Q158.05,570.18 159.85,570.18 H162.25 Q164.05,570.18 164.05,571.98 V634.40 Z" fill="#719ddc"/>
<path d="M174.35,634.40 V601.65 Q174.35,599.85 176.15,599.85 H178.55 Q180.35,599.85 180.35,601.65 V634.40 Z" fill="#d9675f"/>
<path d="M182.05,634.40 V567.20 Q182.05,565.40 183.85,565.40 H186.25 Q188.05,565.40 188.05,567.20 V634.40 Z" fill="#719ddc"/>
<path d="M198.35,634.40 V598.42 Q198.35,596.62 200.15,596.62 H202.55 Q204.35,596.62 204.35,598.42 V634.40 Z" fill="#d9675f"/>
<path d="M206.05,634.40 V561.40 Q206.05,559.60 207.85,559.60 H210.25 Q212.05,559.60 212.05,561.40 V634.40 Z" fill="#719ddc"/>
<path d="M222.35,634.40 V594.83 Q222.35,593.03 224.15,593.03 H226.55 Q228.35,593.03 228.35,594.83 V634.40 Z" fill="#d9675f"/>
<path d="M230.05,634.40 V554.98 Q230.05,553.18 231.85,553.18 H234.25 Q236.05,553.18 236.05,554.98 V634.40 Z" fill="#719ddc"/>
<path d="M246.35,634.40 V591.34 Q246.35,589.54 248.15,589.54 H250.55 Q252.35,589.54 252.35,591.34 V634.40 Z" fill="#d9675f"/>
<path d="M254.05,634.40 V548.60 Q254.05,546.80 255.85,546.80 H258.25 Q260.05,546.80 260.05,548.60 V634.40 Z" fill="#719ddc"/>
<path d="M270.35,634.40 V587.89 Q270.35,586.09 272.15,586.09 H274.55 Q276.35,586.09 276.35,587.89 V634.40 Z" fill="#d9675f"/>
<path d="M278.05,634.40 V542.51 Q278.05,540.71 279.85,540.71 H282.25 Q284.05,540.71 284.05,542.51 V634.40 Z" fill="#719ddc"/>
<path d="M294.35,634.40 V584.36 Q294.35,582.56 296.15,582.56 H298.55 Q300.35,582.56 300.35,584.36 V634.40 Z" fill="#d9675f"/>
<path d="M302.05,634.40 V536.14 Q302.05,534.34 303.85,534.34 H306.25 Q308.05,534.34 308.05,536.14 V634.40 Z" fill="#719ddc"/>
<path d="M318.35,634.40 V580.32 Q318.35,578.52 320.15,578.52 H322.55 Q324.35,578.52 324.35,580.32 V634.40 Z" fill="#d9675f"/>
<path d="M326.05,634.40 V529.37 Q326.05,527.57 327.85,527.57 H330.25 Q332.05,527.57 332.05,529.37 V634.40 Z" fill="#719ddc"/>
<path d="M342.35,634.40 V576.79 Q342.35,574.99 344.15,574.99 H346.55 Q348.35,574.99 348.35,576.79 V634.40 Z" fill="#d9675f"/>
<path d="M350.05,634.40 V522.92 Q350.05,521.12 351.85,521.12 H354.25 Q356.05,521.12 356.05,522.92 V634.40 Z" fill="#719ddc"/>
<path d="M366.35,634.40 V573.37 Q366.35,571.57 368.15,571.57 H370.55 Q372.35,571.57 372.35,573.37 V634.40 Z" fill="#d9675f"/>
<path d="M374.05,634.40 V516.40 Q374.05,514.60 375.85,514.60 H378.25 Q380.05,514.60 380.05,516.40 V634.40 Z" fill="#719ddc"/>
<path d="M390.35,634.40 V570.03 Q390.35,568.23 392.15,568.23 H394.55 Q396.35,568.23 396.35,570.03 V634.40 Z" fill="#d9675f"/>
<path d="M398.05,634.40 V509.76 Q398.05,507.96 399.85,507.96 H402.25 Q404.05,507.96 404.05,509.76 V634.40 Z" fill="#719ddc"/>
<path d="M414.35,634.40 V566.31 Q414.35,564.51 416.15,564.51 H418.55 Q420.35,564.51 420.35,566.31 V634.40 Z" fill="#d9675f"/>
<path d="M422.05,634.40 V502.73 Q422.05,500.93 423.85,500.93 H426.25 Q428.05,500.93 428.05,502.73 V634.40 Z" fill="#719ddc"/>
<path d="M438.35,634.40 V563.06 Q438.35,561.26 440.15,561.26 H442.55 Q444.35,561.26 444.35,563.06 V634.40 Z" fill="#d9675f"/>
<path d="M446.05,634.40 V496.16 Q446.05,494.36 447.85,494.36 H450.25 Q452.05,494.36 452.05,496.16 V634.40 Z" fill="#719ddc"/>
<path d="M462.35,634.40 V560.22 Q462.35,558.42 464.15,558.42 H466.55 Q468.35,558.42 468.35,560.22 V634.40 Z" fill="#d9675f"/>
<path d="M470.05,634.40 V490.11 Q470.05,488.31 471.85,488.31 H474.25 Q476.05,488.31 476.05,490.11 V634.40 Z" fill="#719ddc"/>
<path d="M486.35,634.40 V557.38 Q486.35,555.58 488.15,555.58 H490.55 Q492.35,555.58 492.35,557.38 V634.40 Z" fill="#d9675f"/>
<path d="M494.05,634.40 V484.10 Q494.05,482.30 495.85,482.30 H498.25 Q500.05,482.30 500.05,484.10 V634.40 Z" fill="#719ddc"/>
<path d="M510.35,634.40 V554.52 Q510.35,552.72 512.15,552.72 H514.55 Q516.35,552.72 516.35,554.52 V634.40 Z" fill="#d9675f"/>
<path d="M518.05,634.40 V477.71 Q518.05,475.91 519.85,475.91 H522.25 Q524.05,475.91 524.05,477.71 V634.40 Z" fill="#719ddc"/>
<path d="M534.35,634.40 V552.40 Q534.35,550.60 536.15,550.60 H538.55 Q540.35,550.60 540.35,552.40 V634.40 Z" fill="#d9675f"/>
<path d="M542.05,634.40 V472.16 Q542.05,470.36 543.85,470.36 H546.25 Q548.05,470.36 548.05,472.16 V634.40 Z" fill="#719ddc"/>
<path d="M558.35,634.40 V550.08 Q558.35,548.28 560.15,548.28 H562.55 Q564.35,548.28 564.35,550.08 V634.40 Z" fill="#d9675f"/>
<path d="M566.05,634.40 V466.30 Q566.05,464.50 567.85,464.50 H570.25 Q572.05,464.50 572.05,466.30 V634.40 Z" fill="#719ddc"/>
<path d="M582.35,634.40 V548.12 Q582.35,546.32 584.15,546.32 H586.55 Q588.35,546.32 588.35,548.12 V634.40 Z" fill="#d9675f"/>
<path d="M590.05,634.40 V460.92 Q590.05,459.12 591.85,459.12 H594.25 Q596.05,459.12 596.05,460.92 V634.40 Z" fill="#719ddc"/>
<path d="M606.35,634.40 V545.99 Q606.35,544.19 608.15,544.19 H610.55 Q612.35,544.19 612.35,545.99 V634.40 Z" fill="#d9675f"/>
<path d="M614.05,634.40 V455.34 Q614.05,453.54 615.85,453.54 H618.25 Q620.05,453.54 620.05,455.34 V634.40 Z" fill="#719ddc"/>
<path d="M630.35,634.40 V544.36 Q630.35,542.56 632.15,542.56 H634.55 Q636.35,542.56 636.35,544.36 V634.40 Z" fill="#d9675f"/>
<path d="M638.05,634.40 V450.05 Q638.05,448.25 639.85,448.25 H642.25 Q644.05,448.25 644.05,450.05 V634.40 Z" fill="#719ddc"/>
<path d="M654.35,634.40 V542.60 Q654.35,540.80 656.15,540.80 H658.55 Q660.35,540.80 660.35,542.60 V634.40 Z" fill="#d9675f"/>
<path d="M662.05,634.40 V444.71 Q662.05,442.91 663.85,442.91 H666.25 Q668.05,442.91 668.05,444.71 V634.40 Z" fill="#719ddc"/>
<path d="M678.35,634.40 V540.80 Q678.35,539.00 680.15,539.00 H682.55 Q684.35,539.00 684.35,540.80 V634.40 Z" fill="#d9675f"/>
<path d="M686.05,634.40 V439.35 Q686.05,437.55 687.85,437.55 H690.25 Q692.05,437.55 692.05,439.35 V634.40 Z" fill="#719ddc"/>
<text x="57.35" y="596.78" text-anchor="middle" font-family='"Liberation Sans", sans-serif' font-weight="bold" font-size="10.2" fill="#b0625c" stroke="#fff" stroke-width="2.5" paint-order="stroke" stroke-opacity="0.9">42480</text>
<text x="81.35" y="595.05" text-anchor="middle" font-family='"Liberation Sans", sans-serif' font-weight="bold" font-size="10.2" fill="#b0625c" stroke="#fff" stroke-width="2.5" paint-order="stroke" stroke-opacity="0.9">45351</text>
<text x="105.35" y="593.20" text-anchor="middle" font-family='"Liberation Sans", sans-serif' font-weight="bold" font-size="10.2" fill="#b0625c" stroke="#fff" stroke-width="2.5" paint-order="stroke" stroke-opacity="0.9">48426</text>
<text x="129.35" y="591.86" text-anchor="middle" font-family='"Liberation Sans", sans-serif' font-weight="bold" font-size="10.2" fill="#b0625c" stroke="#fff" stroke-width="2.5" paint-order="stroke" stroke-opacity="0.9">50646</text>
<text x="153.35" y="590.00" text-anchor="middle" font-family='"Liberation Sans", sans-serif' font-weight="bold" font-size="10.2" fill="#b0625c" stroke="#fff" stroke-width="2.5" paint-order="stroke" stroke-opacity="0.9">53739</text>
<text x="177.35" y="587.85" text-anchor="middle" font-family='"Liberation Sans", sans-serif' font-weight="bold" font-size="10.2" fill="#b0625c" stroke="#fff" stroke-width="2.5" paint-order="stroke" stroke-opacity="0.9">57300</text>
<text x="201.35" y="584.62" text-anchor="middle" font-family='"Liberation Sans", sans-serif' font-weight="bold" font-size="10.2" fill="#b0625c" stroke="#fff" stroke-width="2.5" paint-order="stroke" stroke-opacity="0.9">62658</text>
<text x="225.35" y="581.03" text-anchor="middle" font-family='"Liberation Sans", sans-serif' font-weight="bold" font-size="10.2" fill="#b0625c" stroke="#fff" stroke-width="2.5" paint-order="stroke" stroke-opacity="0.9">68606</text>
<text x="249.35" y="577.54" text-anchor="middle" font-family='"Liberation Sans", sans-serif' font-weight="bold" font-size="10.2" fill="#b0625c" stroke="#fff" stroke-width="2.5" paint-order="stroke" stroke-opacity="0.9">74401</text>
<text x="273.35" y="574.09" text-anchor="middle" font-family='"Liberation Sans", sans-serif' font-weight="bold" font-size="10.2" fill="#b0625c" stroke="#fff" stroke-width="2.5" paint-order="stroke" stroke-opacity="0.9">80115</text>
<text x="297.35" y="570.56" text-anchor="middle" font-family='"Liberation Sans", sans-serif' font-weight="bold" font-size="10.2" fill="#b0625c" stroke="#fff" stroke-width="2.5" paint-order="stroke" stroke-opacity="0.9">85973</text>
<text x="321.35" y="566.52" text-anchor="middle" font-family='"Liberation Sans", sans-serif' font-weight="bold" font-size="10.2" fill="#b0625c" stroke="#fff" stroke-width="2.5" paint-order="stroke" stroke-opacity="0.9">92676</text>
<text x="345.35" y="562.99" text-anchor="middle" font-family='"Liberation Sans", sans-serif' font-weight="bold" font-size="10.2" fill="#b0625c" stroke="#fff" stroke-width="2.5" paint-order="stroke" stroke-opacity="0.9">98522</text>
<text x="369.35" y="559.57" text-anchor="middle" font-family='"Liberation Sans", sans-serif' font-weight="bold" font-size="10.2" fill="#b0625c" stroke="#fff" stroke-width="2.5" paint-order="stroke" stroke-opacity="0.9">104189</text>
<text x="393.35" y="556.23" text-anchor="middle" font-family='"Liberation Sans", sans-serif' font-weight="bold" font-size="10.2" fill="#b0625c" stroke="#fff" stroke-width="2.5" paint-order="stroke" stroke-opacity="0.9">109740</text>
<text x="417.35" y="552.51" text-anchor="middle" font-family='"Liberation Sans", sans-serif' font-weight="bold" font-size="10.2" fill="#b0625c" stroke="#fff" stroke-width="2.5" paint-order="stroke" stroke-opacity="0.9">115909</text>
<text x="441.35" y="549.26" text-anchor="middle" font-family='"Liberation Sans", sans-serif' font-weight="bold" font-size="10.2" fill="#b0625c" stroke="#fff" stroke-width="2.5" paint-order="stroke" stroke-opacity="0.9">121301</text>
<text x="465.35" y="546.42" text-anchor="middle" font-family='"Liberation Sans", sans-serif' font-weight="bold" font-size="10.2" fill="#b0625c" stroke="#fff" stroke-width="2.5" paint-order="stroke" stroke-opacity="0.9">126004</text>
<text x="489.35" y="543.58" text-anchor="middle" font-family='"Liberation Sans", sans-serif' font-weight="bold" font-size="10.2" fill="#b0625c" stroke="#fff" stroke-width="2.5" paint-order="stroke" stroke-opacity="0.9">130716</text>
<text x="513.35" y="540.72" text-anchor="middle" font-family='"Liberation Sans", sans-serif' font-weight="bold" font-size="10.2" fill="#b0625c" stroke="#fff" stroke-width="2.5" paint-order="stroke" stroke-opacity="0.9">135464</text>
<text x="537.35" y="538.60" text-anchor="middle" font-family='"Liberation Sans", sans-serif' font-weight="bold" font-size="10.2" fill="#b0625c" stroke="#fff" stroke-width="2.5" paint-order="stroke" stroke-opacity="0.9">138969</text>
<text x="561.35" y="536.28" text-anchor="middle" font-family='"Liberation Sans", sans-serif' font-weight="bold" font-size="10.2" fill="#b0625c" stroke="#fff" stroke-width="2.5" paint-order="stroke" stroke-opacity="0.9">142824</text>
<text x="585.35" y="534.32" text-anchor="middle" font-family='"Liberation Sans", sans-serif' font-weight="bold" font-size="10.2" fill="#b0625c" stroke="#fff" stroke-width="2.5" paint-order="stroke" stroke-opacity="0.9">146062</text>
<text x="609.35" y="532.19" text-anchor="middle" font-family='"Liberation Sans", sans-serif' font-weight="bold" font-size="10.2" fill="#b0625c" stroke="#fff" stroke-width="2.5" paint-order="stroke" stroke-opacity="0.9">149607</text>
<text x="633.35" y="530.56" text-anchor="middle" font-family='"Liberation Sans", sans-serif' font-weight="bold" font-size="10.2" fill="#b0625c" stroke="#fff" stroke-width="2.5" paint-order="stroke" stroke-opacity="0.9">152306</text>
<text x="657.35" y="528.80" text-anchor="middle" font-family='"Liberation Sans", sans-serif' font-weight="bold" font-size="10.2" fill="#b0625c" stroke="#fff" stroke-width="2.5" paint-order="stroke" stroke-opacity="0.9">155219</text>
<text x="681.35" y="527.00" text-anchor="middle" font-family='"Liberation Sans", sans-serif' font-weight="bold" font-size="10.2" fill="#b0625c" stroke="#fff" stroke-width="2.5" paint-order="stroke" stroke-opacity="0.9">158207</text>
<text x="65.05" y="573.59" text-anchor="middle" font-family='"Liberation Sans", sans-serif' font-weight="bold" font-size="10.2" fill="#5a82a6" stroke="#fff" stroke-width="2.5" paint-order="stroke" stroke-opacity="0.9">80949</text>
<text x="89.05" y="569.85" text-anchor="middle" font-family='"Liberation Sans", sans-serif' font-weight="bold" font-size="10.2" fill="#5a82a6" stroke="#fff" stroke-width="2.5" paint-order="stroke" stroke-opacity="0.9">87147</text>
<text x="113.05" y="565.98" text-anchor="middle" font-family='"Liberation Sans", sans-serif' font-weight="bold" font-size="10.2" fill="#5a82a6" stroke="#fff" stroke-width="2.5" paint-order="stroke" stroke-opacity="0.9">93558</text>
<text x="137.05" y="562.46" text-anchor="middle" font-family='"Liberation Sans", sans-serif' font-weight="bold" font-size="10.2" fill="#5a82a6" stroke="#fff" stroke-width="2.5" paint-order="stroke" stroke-opacity="0.9">99399</text>
<text x="161.05" y="558.18" text-anchor="middle" font-family='"Liberation Sans", sans-serif' font-weight="bold" font-size="10.2" fill="#5a82a6" stroke="#fff" stroke-width="2.5" paint-order="stroke" stroke-opacity="0.9">106498</text>
<text x="185.05" y="553.40" text-anchor="middle" font-family='"Liberation Sans", sans-serif' font-weight="bold" font-size="10.2" fill="#5a82a6" stroke="#fff" stroke-width="2.5" paint-order="stroke" stroke-opacity="0.9">114431</text>
<text x="209.05" y="547.60" text-anchor="middle" font-family='"Liberation Sans", sans-serif' font-weight="bold" font-size="10.2" fill="#5a82a6" stroke="#fff" stroke-width="2.5" paint-order="stroke" stroke-opacity="0.9">124054</text>
<text x="233.05" y="541.18" text-anchor="middle" font-family='"Liberation Sans", sans-serif' font-weight="bold" font-size="10.2" fill="#5a82a6" stroke="#fff" stroke-width="2.5" paint-order="stroke" stroke-opacity="0.9">134687</text>
<text x="257.05" y="534.80" text-anchor="middle" font-family='"Liberation Sans", sans-serif' font-weight="bold" font-size="10.2" fill="#5a82a6" stroke="#fff" stroke-width="2.5" paint-order="stroke" stroke-opacity="0.9">145268</text>
<text x="281.05" y="528.71" text-anchor="middle" font-family='"Liberation Sans", sans-serif' font-weight="bold" font-size="10.2" fill="#5a82a6" stroke="#fff" stroke-width="2.5" paint-order="stroke" stroke-opacity="0.9">155370</text>
<text x="305.05" y="522.34" text-anchor="middle" font-family='"Liberation Sans", sans-serif' font-weight="bold" font-size="10.2" fill="#5a82a6" stroke="#fff" stroke-width="2.5" paint-order="stroke" stroke-opacity="0.9">165929</text>
<text x="329.05" y="515.57" text-anchor="middle" font-family='"Liberation Sans", sans-serif' font-weight="bold" font-size="10.2" fill="#5a82a6" stroke="#fff" stroke-width="2.5" paint-order="stroke" stroke-opacity="0.9">177160</text>
<text x="353.05" y="509.12" text-anchor="middle" font-family='"Liberation Sans", sans-serif' font-weight="bold" font-size="10.2" fill="#5a82a6" stroke="#fff" stroke-width="2.5" paint-order="stroke" stroke-opacity="0.9">187859</text>
<text x="377.05" y="502.60" text-anchor="middle" font-family='"Liberation Sans", sans-serif' font-weight="bold" font-size="10.2" fill="#5a82a6" stroke="#fff" stroke-width="2.5" paint-order="stroke" stroke-opacity="0.9">198676</text>
<text x="401.05" y="495.96" text-anchor="middle" font-family='"Liberation Sans", sans-serif' font-weight="bold" font-size="10.2" fill="#5a82a6" stroke="#fff" stroke-width="2.5" paint-order="stroke" stroke-opacity="0.9">209688</text>
<text x="425.05" y="488.93" text-anchor="middle" font-family='"Liberation Sans", sans-serif' font-weight="bold" font-size="10.2" fill="#5a82a6" stroke="#fff" stroke-width="2.5" paint-order="stroke" stroke-opacity="0.9">221344</text>
<text x="449.05" y="482.36" text-anchor="middle" font-family='"Liberation Sans", sans-serif' font-weight="bold" font-size="10.2" fill="#5a82a6" stroke="#fff" stroke-width="2.5" paint-order="stroke" stroke-opacity="0.9">232243</text>
<text x="473.05" y="476.31" text-anchor="middle" font-family='"Liberation Sans", sans-serif' font-weight="bold" font-size="10.2" fill="#5a82a6" stroke="#fff" stroke-width="2.5" paint-order="stroke" stroke-opacity="0.9">242271</text>
<text x="497.05" y="470.30" text-anchor="middle" font-family='"Liberation Sans", sans-serif' font-weight="bold" font-size="10.2" fill="#5a82a6" stroke="#fff" stroke-width="2.5" paint-order="stroke" stroke-opacity="0.9">252245</text>
<text x="521.05" y="463.91" text-anchor="middle" font-family='"Liberation Sans", sans-serif' font-weight="bold" font-size="10.2" fill="#5a82a6" stroke="#fff" stroke-width="2.5" paint-order="stroke" stroke-opacity="0.9">262843</text>
<text x="545.05" y="458.36" text-anchor="middle" font-family='"Liberation Sans", sans-serif' font-weight="bold" font-size="10.2" fill="#5a82a6" stroke="#fff" stroke-width="2.5" paint-order="stroke" stroke-opacity="0.9">272043</text>
<text x="569.05" y="452.50" text-anchor="middle" font-family='"Liberation Sans", sans-serif' font-weight="bold" font-size="10.2" fill="#5a82a6" stroke="#fff" stroke-width="2.5" paint-order="stroke" stroke-opacity="0.9">281752</text>
<text x="593.05" y="447.12" text-anchor="middle" font-family='"Liberation Sans", sans-serif' font-weight="bold" font-size="10.2" fill="#5a82a6" stroke="#fff" stroke-width="2.5" paint-order="stroke" stroke-opacity="0.9">290678</text>
<text x="617.05" y="441.54" text-anchor="middle" font-family='"Liberation Sans", sans-serif' font-weight="bold" font-size="10.2" fill="#5a82a6" stroke="#fff" stroke-width="2.5" paint-order="stroke" stroke-opacity="0.9">299941</text>
<text x="641.05" y="436.25" text-anchor="middle" font-family='"Liberation Sans", sans-serif' font-weight="bold" font-size="10.2" fill="#5a82a6" stroke="#fff" stroke-width="2.5" paint-order="stroke" stroke-opacity="0.9">308705</text>
<text x="665.05" y="430.91" text-anchor="middle" font-family='"Liberation Sans", sans-serif' font-weight="bold" font-size="10.2" fill="#5a82a6" stroke="#fff" stroke-width="2.5" paint-order="stroke" stroke-opacity="0.9">317554</text>
<text x="689.05" y="425.55" text-anchor="middle" font-family='"Liberation Sans", sans-serif' font-weight="bold" font-size="10.2" fill="#5a82a6" stroke="#fff" stroke-width="2.5" paint-order="stroke" stroke-opacity="0.9">326448</text>
<rect x="46" y="633.90" width="654" height="1.1" fill="#3a3a3a"/>
<text x="61.20" y="647.80" text-anchor="middle" font-family='"Liberation Sans", sans-serif' font-size="10.1" fill="#333">26</text>
<text x="61.20" y="657.40" text-anchor="middle" font-family='"Liberation Sans", sans-serif' font-size="10.1" fill="#333">апр</text>
<text x="85.20" y="647.80" text-anchor="middle" font-family='"Liberation Sans", sans-serif' font-size="10.1" fill="#333">27</text>
<text x="85.20" y="657.40" text-anchor="middle" font-family='"Liberation Sans", sans-serif' font-size="10.1" fill="#333">апр</text>
<text x="109.20" y="647.80" text-anchor="middle" font-family='"Liberation Sans", sans-serif' font-size="10.1" fill="#333">28</text>
<text x="109.20" y="657.40" text-anchor="middle" font-family='"Liberation Sans", sans-serif' font-size="10.1" fill="#333">апр</text>
<text x="133.20" y="647.80" text-anchor="middle" font-family='"Liberation Sans", sans-serif' font-size="10.1" fill="#333">29</text>
<text x="133.20" y="657.40" text-anchor="middle" font-family='"Liberation Sans", sans-serif' font-size="10.1" fill="#333">апр</text>
<text x="157.20" y="647.80" text-anchor="middle" font-family='"Liberation Sans", sans-serif' font-size="10.1" fill="#333">30</text>
<text x="157.20" y="657.40" text-anchor="middle" font-family='"Liberation Sans", sans-serif' font-size="10.1" fill="#333">апр</text>
<text x="181.20" y="647.80" text-anchor="middle" font-family='"Liberation Sans", sans-serif' font-size="10.1" fill="#333">1</text>
<text x="181.20" y="657.40" text-anchor="middle" font-family='"Liberation Sans", sans-serif' font-size="10.1" fill="#333">мая</text>
<text x="205.20" y="647.80" text-anchor="middle" font-family='"Liberation Sans", sans-serif' font-size="10.1" fill="#333">2</text>
<text x="205.20" y="657.40" text-anchor="middle" font-family='"Liberation Sans", sans-serif' font-size="10.1" fill="#333">мая</text>
<text x="229.20" y="647.80" text-anchor="middle" font-family='"Liberation Sans", sans-serif' font-size="10.1" fill="#333">3</text>
<text x="229.20" y="657.40" text-anchor="middle" font-family='"Liberation Sans", sans-serif' font-size="10.1" fill="#333">мая</text>
<text x="253.20" y="647.80" text-anchor="middle" font-family='"Liberation Sans", sans-serif' font-size="10.1" fill="#333">4</text>
<text x="253.20" y="657.40" text-anchor="middle" font-family='"Liberation Sans", sans-serif' font-size="10.1" fill="#333">мая</text>
<text x="277.20" y="647.80" text-anchor="middle" font-family='"Liberation Sans", sans-serif' font-size="10.1" fill="#333">5</text>
<text x="277.20" y="657.40" text-anchor="middle" font-family='"Liberation Sans", sans-serif' font-size="10.1" fill="#333">мая</text>
<text x="301.20" y="647.80" text-anchor="middle" font-family='"Liberation Sans", sans-serif' font-size="10.1" fill="#333">6</text>
<text x="301.20" y="657.40" text-anchor="middle" font-family='"Liberation Sans", sans-serif' font-size="10.1" fill="#333">мая</text>
<text x="325.20" y="647.80" text-anchor="middle" font-family='"Liberation Sans", sans-serif' font-size="10.1" fill="#333">7</text>
<text x="325.20" y="657.40" text-anchor="middle" font-family='"Liberation Sans", sans-serif' font-size="10.1" fill="#333">мая</text>
<text x="349.20" y="647.80" text-anchor="middle" font-family='"Liberation Sans", sans-serif' font-size="10.1" fill="#333">8</text>
<text x="349.20" y="657.40" text-anchor="middle" font-family='"Liberation Sans", sans-serif' font-size="10.1" fill="#333">мая</text>
<text x="373.20" y="647.80" text-anchor="middle" font-family='"Liberation Sans", sans-serif' font-size="10.1" fill="#333">9</text>
<text x="373.20" y="657.40" text-anchor="middle" font-family='"Liberation Sans", sans-serif' font-size="10.1" fill="#333">мая</text>
<text x="397.20" y="647.80" text-anchor="middle" font-family='"Liberation Sans", sans-serif' font-size="10.1" fill="#333">10</text>
<text x="397.20" y="657.40" text-anchor="middle" font-family='"Liberation Sans", sans-serif' font-size="10.1" fill="#333">мая</text>
<text x="421.20" y="647.80" text-anchor="middle" font-family='"Liberation Sans", sans-serif' font-size="10.1" fill="#333">11</text>
<text x="421.20" y="657.40" text-anchor="middle" font-family='"Liberation Sans", sans-serif' font-size="10.1" fill="#333">мая</text>
<text x="445.20" y="647.80" text-anchor="middle" font-family='"Liberation Sans", sans-serif' font-size="10.1" fill="#333">12</text>
<text x="445.20" y="657.40" text-anchor="middle" font-family='"Liberation Sans", sans-serif' font-size="10.1" fill="#333">мая</text>
<text x="469.20" y="647.80" text-anchor="middle" font-family='"Liberation Sans", sans-serif' font-size="10.1" fill="#333">13</text>
<text x="469.20" y="657.40" text-anchor="middle" font-family='"Liberation Sans", sans-serif' font-size="10.1" fill="#333">мая</text>
<text x="493.20" y="647.80" text-anchor="middle" font-family='"Liberation Sans", sans-serif' font-size="10.1" fill="#333">14</text>
<text x="493.20" y="657.40" text-anchor="middle" font-family='"Liberation Sans", sans-serif' font-size="10.1" fill="#333">мая</text>
<text x="517.20" y="647.80" text-anchor="middle" font-family='"Liberation Sans", sans-serif' font-size="10.1" fill="#333">15</text>
<text x="517.20" y="657.40" text-anchor="middle" font-family='"Liberation Sans", sans-serif' font-size="10.1" fill="#333">мая</text>
<text x="541.20" y="647.80" text-anchor="middle" font-family='"Liberation Sans", sans-serif' font-size="10.1" fill="#333">16</text>
<text x="541.20" y="657.40" text-anchor="middle" font-family='"Liberation Sans", sans-serif' font-size="10.1" fill="#333">мая</text>
<text x="565.20" y="647.80" text-anchor="middle" font-family='"Liberation Sans", sans-serif' font-size="10.1" fill="#333">17</text>
<text x="565.20" y="657.40" text-anchor="middle" font-family='"Liberation Sans", sans-serif' font-size="10.1" fill="#333">мая</text>
<text x="589.20" y="647.80" text-anchor="middle" font-family='"Liberation Sans", sans-serif' font-size="10.1" fill="#333">18</text>
<text x="589.20" y="657.40" text-anchor="middle" font-family='"Liberation Sans", sans-serif' font-size="10.1" fill="#333">мая</text>
<text x="613.20" y="647.80" text-anchor="middle" font-family='"Liberation Sans", sans-serif' font-size="10.1" fill="#333">19</text>
<text x="613.20" y="657.40" text-anchor="middle" font-family='"Liberation Sans", sans-serif' font-size="10.1" fill="#333">мая</text>
<text x="637.20" y="647.80" text-anchor="middle" font-family='"Liberation Sans", sans-serif' font-size="10.1" fill="#333">20</text>
<text x="637.20" y="657.40" text-anchor="middle" font-family='"Liberation Sans", sans-serif' font-size="10.1" fill="#333">мая</text>
<text x="661.20" y="647.80" text-anchor="middle" font-family='"Liberation Sans", sans-serif' font-size="10.1" fill="#333">21</text>
<text x="661.20" y="657.40" text-anchor="middle" font-family='"Liberation Sans", sans-serif' font-size="10.1" fill="#333">мая</text>
<text x="685.20" y="647.80" text-anchor="middle" font-family='"Liberation Sans", sans-serif' font-size="10.1" fill="#333">22</text>
<text x="685.20" y="657.40" text-anchor="middle" font-family='"Liberation Sans", sans-serif' font-size="10.1" fill="#333">мая</text>
<rect x="30.2" y="673.4" width="10" height="9.5" fill="#d9675f"/>
<text x="47.2" y="682.00" font-family='"Liberation Sans", sans-serif' font-size="9.8" fill="#444">Москва</text>
<rect x="93.5" y="673.4" width="10" height="9.5" fill="#719ddc"/>
<text x="110.4" y="682.00" font-family='"Liberation Sans", sans-serif' font-size="9.8" fill="#444">вся Россия</text>
</g></svg>
</body></html>
